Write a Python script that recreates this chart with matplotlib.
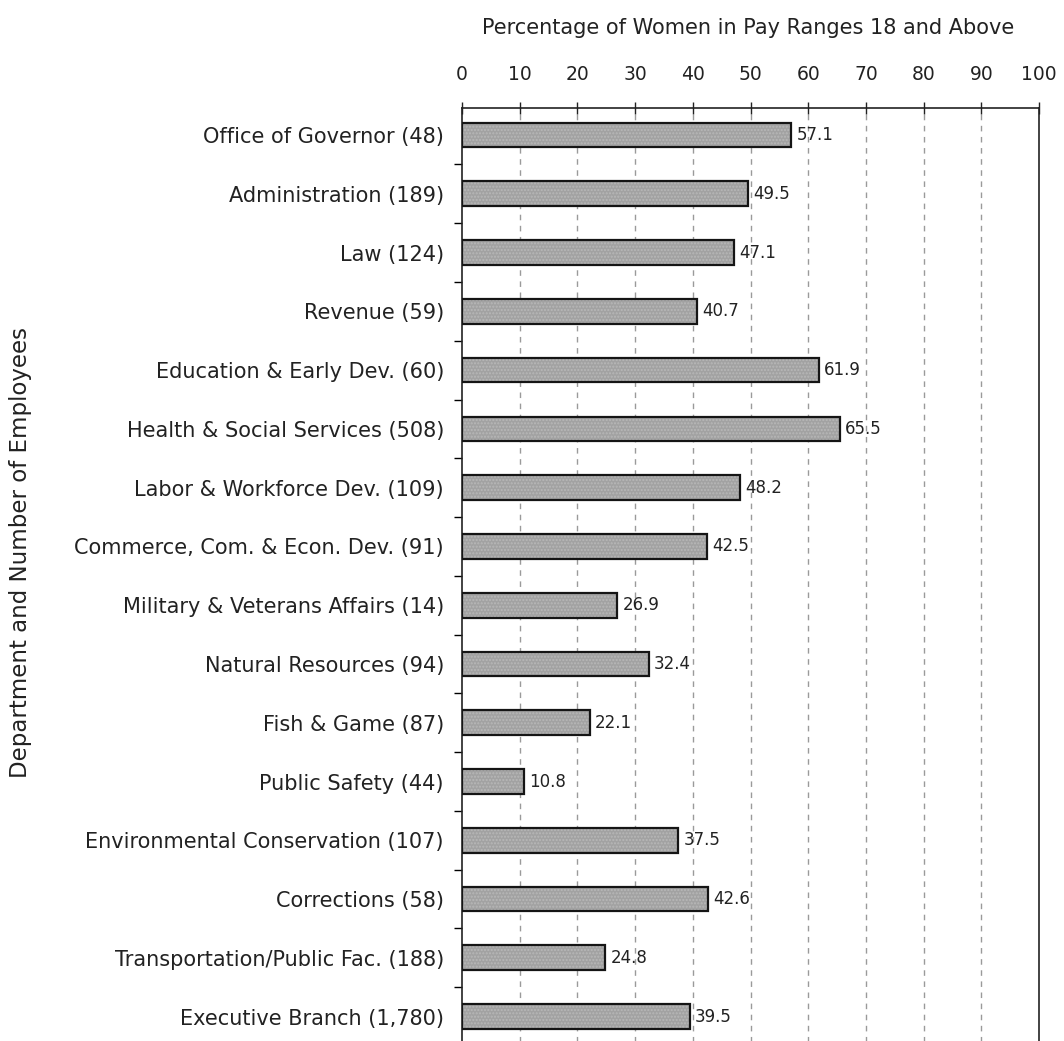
import numpy as np
import matplotlib
matplotlib.use("Agg")
import matplotlib.pyplot as plt

plt.rcParams['font.family'] = ['DejaVu Sans']

departments = [
    "Office of Governor (48)",
    "Administration (189)",
    "Law (124)",
    "Revenue (59)",
    "Education & Early Dev. (60)",
    "Health & Social Services (508)",
    "Labor & Workforce Dev. (109)",
    "Commerce, Com. & Econ. Dev. (91)",
    "Military & Veterans Affairs (14)",
    "Natural Resources (94)",
    "Fish & Game (87)",
    "Public Safety (44)",
    "Environmental Conservation (107)",
    "Corrections (58)",
    "Transportation/Public Fac. (188)",
    "Executive Branch (1,780)",
]
pct_women = [57.1, 49.5, 47.1, 40.7, 61.9, 65.5, 48.2, 42.5,
             26.9, 32.4, 22.1, 10.8, 37.5, 42.6, 24.8, 39.5]
x_ticks = [0, 10, 20, 30, 40, 50, 60, 70, 80, 90, 100]

fig = plt.figure(figsize=(10.64, 10.41), dpi=100)
# axes runs a little past the bottom edge, like the cropped scan
ax = fig.add_axes([462/1064, -5/1041, (1039-462)/1064, (1041-108+5)/1041])

y = np.arange(len(departments))

# dashed grid lines first so bars sit on top
for xv in x_ticks[1:-1]:
    ax.axvline(xv, color='#9a9a9a', lw=1.0, ls=(0, (4, 4)), zorder=0)

ax.barh(y, pct_women, height=0.42, color='#a2a2a2', linewidth=0, zorder=2)
# faint stipple on the bars
ax.barh(y, pct_women, height=0.42, facecolor='none', edgecolor='#b8b8b8',
        hatch='.....', linewidth=0, zorder=3)
ax.barh(y, pct_women, height=0.42, facecolor='none', edgecolor='#151515',
        linewidth=1.6, zorder=4)

for yi, v in zip(y, pct_women):
    ax.text(v + 0.9, yi, f"{v:.1f}", va='center', ha='left', fontsize=12,
            color='#222222', zorder=5)

ax.set_xlim(0, 100)
ax.set_ylim(15.5, -0.46)

ax.xaxis.tick_top()
ax.set_xticks(x_ticks)
ax.tick_params(axis='x', direction='inout', length=8, width=1, pad=13,
               labelsize=13.5, colors='#222222')

ax.set_yticks(y)
ax.set_yticklabels(departments)
ax.tick_params(axis='y', which='major', length=0, pad=13, labelsize=15,
               colors='#222222')
ax.set_yticks(y[:-1] + 0.5, minor=True)
ax.tick_params(axis='y', which='minor', length=6, width=1, direction='out')

for side in ['top', 'left', 'right']:
    ax.spines[side].set_linewidth(1.2)
    ax.spines[side].set_color('#222222')
ax.spines['bottom'].set_visible(False)

fig.text(748/1064, 1 - 28/1041, "Percentage of Women in Pay Ranges 18 and Above",
         ha='center', va='center', fontsize=15, color='#222222')
fig.text(21/1064, 1 - 552/1041, "Department and Number of Employees",
         ha='center', va='center', rotation=90, fontsize=16.5, color='#222222')

fig.savefig("out.png", dpi=100)
